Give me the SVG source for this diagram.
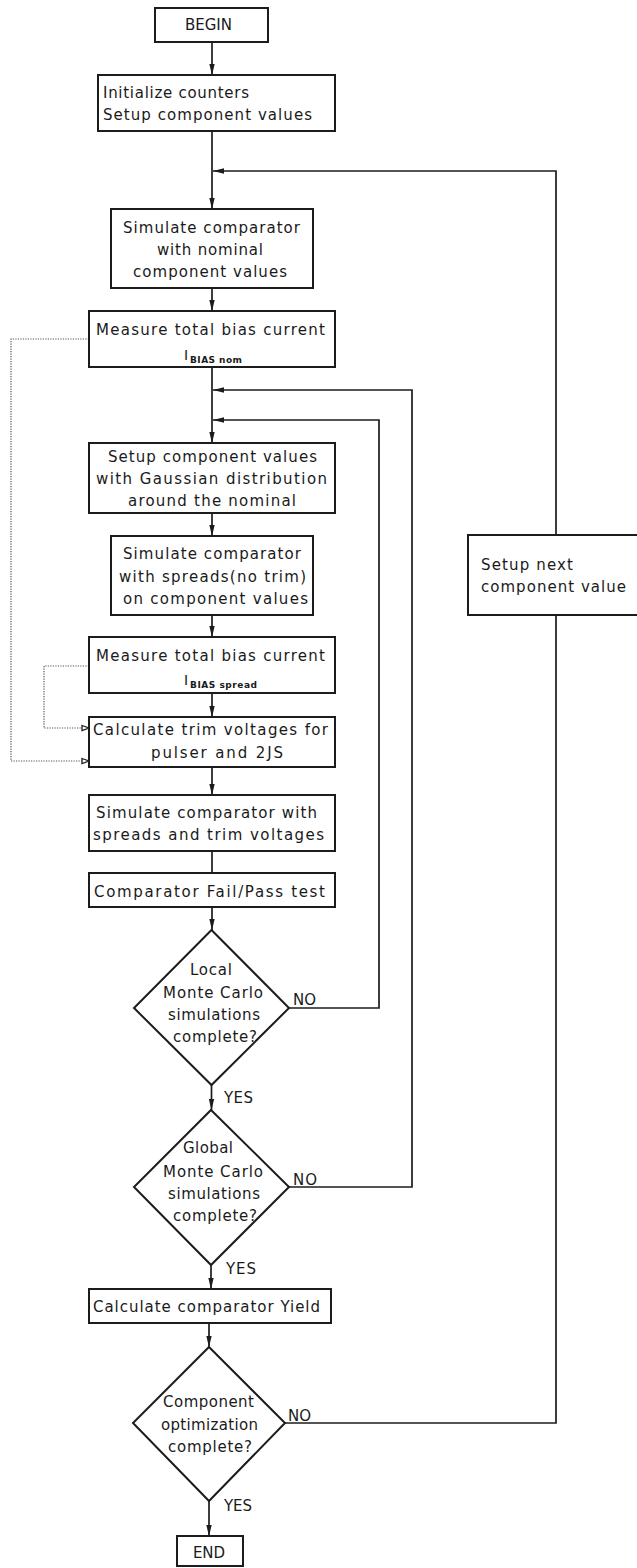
<svg xmlns="http://www.w3.org/2000/svg" width="637" height="1568" viewBox="0 0 637 1568">
  <defs>
    <style>
      .box { fill: #ffffff; stroke: #1c1c1c; stroke-width: 2; }
      .line { fill: none; stroke: #1c1c1c; stroke-width: 1.7; }
      .dot { fill: none; stroke: #555555; stroke-width: 1.2; stroke-dasharray: 1.2 1.3; }
      text { font-family: "DejaVu Sans", "Liberation Sans", Arial, sans-serif; font-size: 15px; fill: #1a1a1a; }
      .lbl { font-size: 15px; }
      .iv { font-size: 14px; }
      .sub { font-size: 9px; font-weight: bold; }
    </style>
    <marker id="arr" markerUnits="userSpaceOnUse" markerWidth="12" markerHeight="8" refX="11" refY="3.5" orient="auto">
      <path d="M0,0.8 L11,3.5 L0,6.2 Z" fill="#1c1c1c"/>
    </marker>
    <marker id="open" markerUnits="userSpaceOnUse" markerWidth="10" markerHeight="8" refX="8" refY="4" orient="auto">
      <path d="M1,1.5 L8,4 L1,6.5 Z" fill="#ffffff" stroke="#1c1c1c" stroke-width="1.3"/>
    </marker>
  </defs>
  <rect width="637" height="1568" fill="#ffffff"/>

  <!-- connectors -->
  <g id="connectors">
    <path class="line" d="M212,42 V75" marker-end="url(#arr)"/>
    <path class="line" d="M212,131 V209" marker-end="url(#arr)"/>
    <path class="line" d="M212,288 V311" marker-end="url(#arr)"/>
    <path class="line" d="M212,367 V443" marker-end="url(#arr)"/>
    <path class="line" d="M212,513 V536" marker-end="url(#arr)"/>
    <path class="line" d="M212,615 V637" marker-end="url(#arr)"/>
    <path class="line" d="M212,693 V717" marker-end="url(#arr)"/>
    <path class="line" d="M212,767 V795" marker-end="url(#arr)"/>
    <path class="line" d="M212,851 V873"/>
    <path class="line" d="M212,907 V930" marker-end="url(#arr)"/>
    <path class="line" d="M211.5,1085 V1110" marker-end="url(#arr)"/>
    <path class="line" d="M211,1265 V1289" marker-end="url(#arr)"/>
    <path class="line" d="M209,1323 V1347" marker-end="url(#arr)"/>
    <path class="line" d="M209,1501 V1536" marker-end="url(#arr)"/>
    <!-- loop: local Monte Carlo not complete -->
    <path class="line" d="M289,1008 H379 V420 H213" marker-end="url(#arr)"/>
    <!-- loop: global Monte Carlo not complete -->
    <path class="line" d="M289,1187 H412 V390 H213" marker-end="url(#arr)"/>
    <!-- loop: component optimization not complete -->
    <path class="line" d="M285,1423 H556 V615"/>
    <path class="line" d="M556,535 V171 H213" marker-end="url(#arr)"/>
    <!-- dotted data feeds into trim calculation -->
    <path class="dot" d="M89,339 H11 V761 H89" marker-end="url(#open)"/>
    <path class="dot" d="M89,666 H44 V728 H89" marker-end="url(#open)"/>
  </g>

  <g id="begin">
    <rect class="box" x="155" y="8" width="113" height="34"/>
    <text x="185" y="30" textLength="47" lengthAdjust="spacing">BEGIN</text>
  </g>

  <g id="init">
    <rect class="box" x="98" y="75" width="237" height="56"/>
    <text x="103" y="98" textLength="146" lengthAdjust="spacing">Initialize counters</text>
    <text x="103" y="120" textLength="209" lengthAdjust="spacing">Setup component values</text>
  </g>

  <g id="sim-nominal">
    <rect class="box" x="111" y="209" width="202" height="79"/>
    <text x="123" y="233" textLength="177" lengthAdjust="spacing">Simulate comparator</text>
    <text x="157" y="255" textLength="106" lengthAdjust="spacing">with nominal</text>
    <text x="133" y="277" textLength="154" lengthAdjust="spacing">component values</text>
  </g>

  <g id="measure-nom">
    <rect class="box" x="89" y="311" width="246" height="56"/>
    <text x="96" y="335" textLength="229" lengthAdjust="spacing">Measure total bias current</text>
    <text class="iv" x="184" y="360">I</text>
    <text class="sub" x="190" y="363" textLength="52" lengthAdjust="spacing">BIAS nom</text>
  </g>

  <g id="setup-gaussian">
    <rect class="box" x="89" y="443" width="246" height="70"/>
    <text x="108" y="462" textLength="209" lengthAdjust="spacing">Setup component values</text>
    <text x="96" y="484" textLength="231" lengthAdjust="spacing">with Gaussian distribution</text>
    <text x="128" y="506" textLength="168" lengthAdjust="spacing">around the nominal</text>
  </g>

  <g id="sim-spreads">
    <rect class="box" x="111" y="536" width="202" height="79"/>
    <text x="123" y="559" textLength="178" lengthAdjust="spacing">Simulate comparator</text>
    <text x="119" y="582" textLength="187" lengthAdjust="spacing">with spreads(no trim)</text>
    <text x="123" y="604" textLength="185" lengthAdjust="spacing">on component values</text>
  </g>

  <g id="measure-spread">
    <rect class="box" x="89" y="637" width="246" height="56"/>
    <text x="96" y="661" textLength="229" lengthAdjust="spacing">Measure total bias current</text>
    <text class="iv" x="184" y="685">I</text>
    <text class="sub" x="190" y="688" textLength="67" lengthAdjust="spacing">BIAS spread</text>
  </g>

  <g id="calc-trim">
    <rect class="box" x="89" y="717" width="246" height="50"/>
    <text x="93" y="735" textLength="235" lengthAdjust="spacing">Calculate trim voltages for</text>
    <text x="151" y="758" textLength="132" lengthAdjust="spacing">pulser and 2JS</text>
  </g>

  <g id="sim-trim">
    <rect class="box" x="89" y="795" width="246" height="56"/>
    <text x="96" y="818" textLength="221" lengthAdjust="spacing">Simulate comparator with</text>
    <text x="93" y="840" textLength="231" lengthAdjust="spacing">spreads and trim voltages</text>
  </g>

  <g id="fail-pass">
    <rect class="box" x="89" y="873" width="246" height="34"/>
    <text x="94" y="897" textLength="231" lengthAdjust="spacing">Comparator Fail/Pass test</text>
  </g>

  <g id="local-mc">
    <path class="box" d="M211.5,930 L289,1008 L211.5,1085 L134,1008 Z"/>
    <text x="190" y="975" textLength="42" lengthAdjust="spacing">Local</text>
    <text x="163" y="998" textLength="100" lengthAdjust="spacing">Monte Carlo</text>
    <text x="168" y="1020" textLength="92" lengthAdjust="spacing">simulations</text>
    <text x="173" y="1042" textLength="84" lengthAdjust="spacing">complete?</text>
    <text class="lbl" x="293" y="1005" textLength="23" lengthAdjust="spacing">NO</text>
    <text class="lbl" x="224" y="1103" textLength="29" lengthAdjust="spacing">YES</text>
  </g>

  <g id="global-mc">
    <path class="box" d="M211,1110 L289,1187 L211,1265 L134,1187 Z"/>
    <text x="183" y="1153" textLength="50" lengthAdjust="spacing">Global</text>
    <text x="163" y="1177" textLength="100" lengthAdjust="spacing">Monte Carlo</text>
    <text x="168" y="1199" textLength="92" lengthAdjust="spacing">simulations</text>
    <text x="173" y="1221" textLength="84" lengthAdjust="spacing">complete?</text>
    <text class="lbl" x="293" y="1185" textLength="24" lengthAdjust="spacing">NO</text>
    <text class="lbl" x="226" y="1274" textLength="30" lengthAdjust="spacing">YES</text>
  </g>

  <g id="yield">
    <rect class="box" x="89" y="1289" width="242" height="34"/>
    <text x="93" y="1312" textLength="227" lengthAdjust="spacing">Calculate comparator Yield</text>
  </g>

  <g id="component-opt">
    <path class="box" d="M209,1347 L285,1423 L209,1501 L133,1423 Z"/>
    <text x="163" y="1407" textLength="91" lengthAdjust="spacing">Component</text>
    <text x="161" y="1430" textLength="97" lengthAdjust="spacing">optimization</text>
    <text x="168" y="1452" textLength="84" lengthAdjust="spacing">complete?</text>
    <text class="lbl" x="288" y="1421" textLength="23" lengthAdjust="spacing">NO</text>
    <text class="lbl" x="224" y="1511" textLength="28" lengthAdjust="spacing">YES</text>
  </g>

  <g id="end">
    <rect class="box" x="177" y="1536" width="66" height="30"/>
    <text x="193" y="1558" textLength="32" lengthAdjust="spacing">END</text>
  </g>

  <g id="next-component">
    <rect class="box" x="468" y="535" width="185" height="80"/>
    <text x="481" y="570" textLength="92" lengthAdjust="spacing">Setup next</text>
    <text x="481" y="592" textLength="145" lengthAdjust="spacing">component value</text>
  </g>
</svg>
